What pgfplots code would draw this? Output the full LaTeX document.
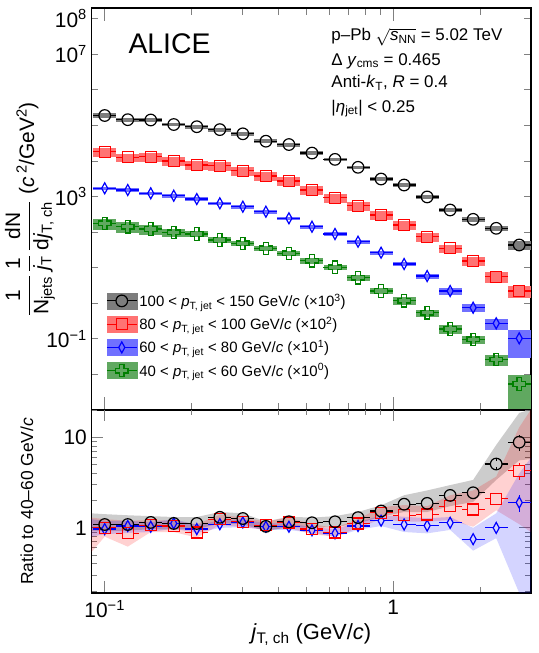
\documentclass[border=0pt]{standalone}
\usepackage{fontspec}
\setmainfont{Liberation Sans}
\usepackage{pgfplots}
\usepackage{pgfplotstable}
\pgfplotsset{compat=1.18}

\definecolor{cblk}{RGB}{0,0,0}
\definecolor{cred}{RGB}{255,0,0}
\definecolor{cblu}{RGB}{0,0,255}
\definecolor{cgrn}{RGB}{0,128,0}
\definecolor{boxK}{RGB}{125,125,125}
\definecolor{boxR}{RGB}{255,115,115}
\definecolor{boxB}{RGB}{112,112,255}
\definecolor{boxG}{RGB}{96,168,96}

\newcommand\fTick{\fontsize{21}{25}\selectfont}
\newcommand\fLab{\fontsize{21}{25}\selectfont}
\newcommand\fInfo{\fontsize{17}{20}\selectfont}
\newcommand\fLeg{\fontsize{15}{18}\selectfont}
\newcommand\fAlice{\fontsize{28.5}{32}\selectfont}
\newcommand\fRatio{\fontsize{17.5}{20}\selectfont}
\newcommand\fX{\fontsize{22}{26}\selectfont}

\pgfdeclareplotmark{ocross}{%
  \pgfpathmoveto{\pgfqpoint{-0.36\pgfplotmarksize}{\pgfplotmarksize}}%
  \pgfpathlineto{\pgfqpoint{0.36\pgfplotmarksize}{\pgfplotmarksize}}%
  \pgfpathlineto{\pgfqpoint{0.36\pgfplotmarksize}{0.36\pgfplotmarksize}}%
  \pgfpathlineto{\pgfqpoint{\pgfplotmarksize}{0.36\pgfplotmarksize}}%
  \pgfpathlineto{\pgfqpoint{\pgfplotmarksize}{-0.36\pgfplotmarksize}}%
  \pgfpathlineto{\pgfqpoint{0.36\pgfplotmarksize}{-0.36\pgfplotmarksize}}%
  \pgfpathlineto{\pgfqpoint{0.36\pgfplotmarksize}{-\pgfplotmarksize}}%
  \pgfpathlineto{\pgfqpoint{-0.36\pgfplotmarksize}{-\pgfplotmarksize}}%
  \pgfpathlineto{\pgfqpoint{-0.36\pgfplotmarksize}{-0.36\pgfplotmarksize}}%
  \pgfpathlineto{\pgfqpoint{-\pgfplotmarksize}{-0.36\pgfplotmarksize}}%
  \pgfpathlineto{\pgfqpoint{-\pgfplotmarksize}{0.36\pgfplotmarksize}}%
  \pgfpathlineto{\pgfqpoint{-0.36\pgfplotmarksize}{0.36\pgfplotmarksize}}%
  \pgfpathclose
  \pgfusepathqstroke
}
\pgfdeclareplotmark{tdiamond}{%
  \pgfpathmoveto{\pgfqpoint{0pt}{\pgfplotmarksize}}%
  \pgfpathlineto{\pgfqpoint{0.55\pgfplotmarksize}{0pt}}%
  \pgfpathlineto{\pgfqpoint{0pt}{-\pgfplotmarksize}}%
  \pgfpathlineto{\pgfqpoint{-0.55\pgfplotmarksize}{0pt}}%
  \pgfpathclose
  \pgfusepathqstroke
}

% top panel: x, y, relative systematic
\pgfplotstableread{
x y s
0.1000 1.90e5 0.17
0.1202 1.45e5 0.12
0.1444 1.42e5 0.12
0.1735 1.06e5 0.12
0.2085 9.20e4 0.12
0.2506 7.62e4 0.12
0.3011 5.81e4 0.12
0.3619 3.60e4 0.12
0.4349 2.90e4 0.12
0.5227 1.67e4 0.12
0.6281 1.11e4 0.12
0.7548 6.64e3 0.12
0.9071 3.11e3 0.12
1.090 2.11e3 0.12
1.310 977 0.12
1.574 419 0.14
1.891 229 0.15
2.273 128 0.18
2.731 43.5 0.27
}\topK
\pgfplotstableread{
x y s
0.1000 1.82e4 0.30
0.1202 1.27e4 0.27
0.1444 1.32e4 0.27
0.1735 9.98e3 0.27
0.2085 7.71e3 0.27
0.2506 7.36e3 0.27
0.3011 5.33e3 0.27
0.3619 3.78e3 0.27
0.4349 2.74e3 0.27
0.5227 1.53e3 0.27
0.6281 929 0.27
0.7548 553 0.27
0.9071 303 0.27
1.090 158 0.27
1.310 74.3 0.27
1.574 35.1 0.27
1.891 15.4 0.28
2.273 5.58 0.35
2.731 2.21 0.38
}\topR
\pgfplotstableread{
x y s
0.1000 1708 0.12
0.1202 1528 0.12
0.1444 1233 0.12
0.1735 1057 0.12
0.2085 853 0.12
0.2506 646 0.12
0.3011 519 0.12
0.3619 375 0.12
0.4349 245 0.12
0.5227 142 0.12
0.6281 88.5 0.12
0.7548 53.8 0.12
0.9071 26.4 0.12
1.090 12.7 0.12
1.310 5.83 0.15
1.574 2.21 0.22
1.891 0.75 0.25
2.273 0.274 0.36
2.731 0.1035 0.72
}\topB
\pgfplotstableread{
x y s
0.1000 177 0.36
0.1202 142 0.34
0.1444 122 0.30
0.1735 98.9 0.25
0.2085 88.5 0.20
0.2506 60.0 0.18
0.3011 48.5 0.18
0.3619 35.1 0.18
0.4349 25.4 0.18
0.5227 15.7 0.18
0.6281 10.3 0.18
0.7548 5.22 0.18
0.9071 2.21 0.20
1.090 1.18 0.25
1.310 0.543 0.22
1.574 0.189 0.28
1.891 0.0970 0.25
2.273 0.0265 0.36
2.731 0.00537 0.82
}\topG

% ratio panel
\pgfplotstableread{
x r
0.1000 1.09
0.1202 1.09
0.1444 1.15
0.1735 1.12
0.2085 1.12
0.2506 1.31
0.3011 1.27
0.3619 1.04
0.4349 1.17
0.5227 1.14
0.6281 1.17
0.7548 1.30
0.9071 1.54
1.090 1.83
1.310 1.87
1.574 2.29
1.891 2.45
2.273 5.1
2.731 8.9
}\ratK
\pgfplotstableread{
x r
0.1000 1.00
0.1202 0.87
0.1444 1.07
0.1735 1.05
0.2085 0.89
0.2506 1.25
0.3011 1.17
0.3619 1.07
0.4349 1.15
0.5227 0.97
0.6281 0.89
0.7548 1.12
0.9071 1.47
1.090 1.38
1.310 1.41
1.574 1.74
1.891 1.60
2.273 2.10
2.731 4.30
}\ratR
\pgfplotstableread{
x r
0.1000 0.97
0.1202 1.05
0.1444 1.03
0.1735 1.12
0.2085 0.97
0.2506 1.10
0.3011 1.15
0.3619 1.03
0.4349 1.03
0.5227 0.94
0.6281 0.87
0.7548 1.05
0.9071 1.20
1.090 1.09
1.310 1.06
1.574 1.14
1.891 0.75
2.273 1.00
2.731 1.91
}\ratB

\pgfplotsset{
  every axis/.append style={
    scale only axis, width=439.5bp,
    xmin=0.09, xmax=3,
    axis line style={line width=1.1bp},
    tick align=inside,
    tick style={line width=0.9bp},
    xtick={0.1,1},
    minor xtick={0.09,0.2,0.3,0.4,0.5,0.6,0.7,0.8,0.9,2,3},
    tick label style={font=\fTick},
    yticklabel style={inner sep=0pt, xshift=-4.5bp},
    xticklabel style={inner sep=0pt, yshift=-7bp},
  },
}

\begin{document}
\begin{tikzpicture}
\path[use as bounding box] (0,0) rectangle (539bp,653bp);

\begin{loglogaxis}[
  at={(91.5bp,243bp)}, anchor=south west, height=402bp,
  ymin=1e-3, ymax=2e8,
  xticklabels={,},
  ytick={1e-1,1e3,1e7,1e8},
  yticklabels={10\textsuperscript{−1},10\textsuperscript{3},10\textsuperscript{7},10\textsuperscript{8}},
  minor ytick={1e-3,1e-2,1e-1,1,10,100,1e3,1e4,1e5,1e6,1e7,1e8},
  every major y tick/.append style={draw=none},
  major tick length=13bp, minor tick length=7bp,
  ylabel={$\displaystyle\frac{\mbox{1}}{\mbox{N\textsubscript{jets}}}\,\frac{\mbox{1}}{\mbox{\textit{j}\textsubscript{T}}}\,\frac{\mbox{dN}}{\mbox{d\textit{j}\textsubscript{T, ch}}}$\ (\textit{c}\,\textsuperscript{2}/GeV\textsuperscript{2})},
  ylabel style={at={(rel axis cs:-0.14,0.5)}, anchor=center, font=\fLab},
  legend style={at={(0.033,0.2943)}, anchor=north west, draw=none, fill=none,
    inner sep=0pt, font=\fLeg, row sep=5.3bp, nodes={inner sep=2bp}},
  legend cell align=left,
]
\addplot[draw=none, mark=none, forget plot,
  error bars/.cd, y dir=both, y explicit relative, error mark=none,
  error bar style={line width=23bp, draw=boxK, solid}] table[x=x,y=y,y error=s]{\topK};
\addplot[draw=none, mark=none, forget plot,
  error bars/.cd, y dir=both, y explicit relative, error mark=none,
  error bar style={line width=23bp, draw=boxR, solid}] table[x=x,y=y,y error=s]{\topR};
\addplot[draw=none, mark=none, forget plot,
  error bars/.cd, y dir=both, y explicit relative, error mark=none,
  error bar style={line width=23bp, draw=boxB, solid}] table[x=x,y=y,y error=s]{\topB};
\addplot[draw=none, mark=none, forget plot,
  error bars/.cd, y dir=both, y explicit relative, error mark=none,
  error bar style={line width=23bp, draw=boxG, solid}] table[x=x,y=y,y error=s]{\topG};

\addplot[cgrn, only marks, line width=1.2bp, forget plot, mark=ocross, mark size=6.2bp,
  error bars/.cd, x dir=both, x explicit, error mark=none,
  error bar style={line width=1.2bp, shorten <=5.8bp}]
  table[x=x,y=y, x error plus expr=0.0962*\thisrow{x}, x error minus expr=0.0878*\thisrow{x}]{\topG};
\addplot[cblu, only marks, line width=1.2bp, forget plot, mark=tdiamond, mark size=5.5bp,
  error bars/.cd, x dir=both, x explicit, error mark=none,
  error bar style={line width=1.2bp, shorten <=3.2bp}]
  table[x=x,y=y, x error plus expr=0.0962*\thisrow{x}, x error minus expr=0.0878*\thisrow{x}]{\topB};
\addplot[cred, only marks, line width=1.2bp, forget plot, mark=square, mark size=5.5bp,
  error bars/.cd, x dir=both, x explicit, error mark=none,
  error bar style={line width=1.2bp, shorten <=5.5bp}]
  table[x=x,y=y, x error plus expr=0.0962*\thisrow{x}, x error minus expr=0.0878*\thisrow{x}]{\topR};
\addplot[cblk, only marks, line width=1.2bp, forget plot, mark=o, mark size=5.8bp,
  error bars/.cd, x dir=both, x explicit, error mark=none,
  error bar style={line width=1.2bp, shorten <=5.8bp}]
  table[x=x,y=y, x error plus expr=0.0962*\thisrow{x}, x error minus expr=0.0878*\thisrow{x}]{\topK};

\addlegendimage{legend image code/.code={%
  \fill[boxK] (0bp,-8bp) rectangle (30bp,8bp);
  \draw[cblk,line width=1.2bp] (0bp,0bp) -- (9.2bp,0bp) (20.8bp,0bp) -- (30bp,0bp);
  \draw[cblk,line width=1.2bp] plot[mark=o,mark size=5.8bp] coordinates {(15bp,0bp)};}}
\addlegendentry{100 < \textit{p}\textsubscript{T, jet} < 150 GeV/\textit{c} (×10\textsuperscript{3})}
\addlegendimage{legend image code/.code={%
  \fill[boxR] (0bp,-8bp) rectangle (30bp,8bp);
  \draw[cred,line width=1.2bp] (0bp,0bp) -- (9.5bp,0bp) (20.5bp,0bp) -- (30bp,0bp);
  \draw[cred,line width=1.2bp] plot[mark=square,mark size=5.5bp] coordinates {(15bp,0bp)};}}
\addlegendentry{80 < \textit{p}\textsubscript{T, jet} < 100 GeV/\textit{c} (×10\textsuperscript{2})}
\addlegendimage{legend image code/.code={%
  \fill[boxB] (0bp,-8bp) rectangle (30bp,8bp);
  \draw[cblu,line width=1.2bp] (0bp,0bp) -- (11.8bp,0bp) (18.2bp,0bp) -- (30bp,0bp);
  \draw[cblu,line width=1.2bp] plot[mark=tdiamond,mark size=5.5bp] coordinates {(15bp,0bp)};}}
\addlegendentry{60 < \textit{p}\textsubscript{T, jet} < 80 GeV/\textit{c} (×10\textsuperscript{1})}
\addlegendimage{legend image code/.code={%
  \fill[boxG] (0bp,-8bp) rectangle (30bp,8bp);
  \draw[cgrn,line width=1.2bp] (0bp,0bp) -- (8.8bp,0bp) (21.2bp,0bp) -- (30bp,0bp);
  \draw[cgrn,line width=1.2bp] plot[mark=ocross,mark size=6.2bp] coordinates {(15bp,0bp)};}}
\addlegendentry{40 < \textit{p}\textsubscript{T, jet} < 60 GeV/\textit{c} (×10\textsuperscript{0})}

\node[anchor=base west, font=\fAlice] at (rel axis cs:0.0762,0.888) {ALICE};
\node[anchor=base west, font=\fInfo] at (rel axis cs:0.538,0.918)
  {p–Pb $\sqrt{\mbox{\textit{s}\textsubscript{NN}}}$ = 5.02 TeV};
\node[anchor=base west, font=\fInfo] at (rel axis cs:0.538,0.858)
  {Δ \textit{y}\textsubscript{cms} = 0.465};
\node[anchor=base west, font=\fInfo] at (rel axis cs:0.538,0.801)
  {Anti-\textit{k}\textsubscript{T}, \textit{R} = 0.4};
\node[anchor=base west, font=\fInfo] at (rel axis cs:0.538,0.741)
  {|\textit{η}\textsubscript{jet}| < 0.25};
\end{loglogaxis}

\begin{loglogaxis}[
  at={(91.5bp,60bp)}, anchor=south west, height=183.5bp,
  ymin=0.19, ymax=20.5,
  xticklabels={10\textsuperscript{−1},1},
  ytick={1,10}, yticklabels={1,10},
  minor ytick={0.2,0.3,0.4,0.5,0.6,0.7,0.8,0.9,2,3,4,5,6,7,8,9,20},
  major tick length=12bp, minor tick length=6bp,
  ylabel={Ratio to 40–60 GeV/\textit{c}},
  ylabel style={at={(rel axis cs:-0.147,0.5)}, anchor=center, font=\fRatio},
  xlabel={\textit{j}\textsubscript{T, ch} (GeV/\textit{c})},
  xlabel style={at={(rel axis cs:0.5,-0.256)}, anchor=base, font=\fX},
]
% systematic bands (lower edge, then upper edge backwards)
\addplot[draw=none, fill=black, fill opacity=0.2, forget plot] coordinates {
 (0.09,0.92) (0.1,0.92) (0.1202,0.93) (0.1444,0.97) (0.1735,0.96) (0.2085,0.97)
 (0.2506,1.12) (0.3011,1.10) (0.3619,0.92) (0.4349,1.02) (0.5227,1.00) (0.6281,1.02)
 (0.7548,1.12) (0.9071,1.33) (1.090,1.50) (1.310,1.50) (1.574,1.74) (1.891,1.94)
 (2.273,3.40) (2.731,5.60) (3.0,5.8)
 (3.0,20.5) (2.731,18.8) (2.273,8.3) (1.891,3.4) (1.574,2.98) (1.310,2.6) (1.090,2.3)
 (0.9071,1.78) (0.7548,1.5) (0.6281,1.35) (0.5227,1.3) (0.4349,1.33) (0.3619,1.18)
 (0.3011,1.45) (0.2506,1.5) (0.2085,1.32) (0.1735,1.32) (0.1444,1.35) (0.1202,1.38)
 (0.1,1.42) (0.09,1.45)};
\addplot[draw=none, fill=red, fill opacity=0.18, forget plot] coordinates {
 (0.09,0.54) (0.1,0.8) (0.1202,0.62) (0.1444,0.9) (0.1735,0.9) (0.2085,0.78)
 (0.2506,1.08) (0.3011,1.02) (0.3619,0.95) (0.4349,1.0) (0.5227,0.85) (0.6281,0.8)
 (0.7548,1.0) (0.9071,1.25) (1.09,1.17) (1.31,1.17) (1.574,1.22) (1.891,1.03)
 (2.273,1.57) (2.731,1.1) (3.0,0.9)
 (3.0,20.5) (2.731,13) (2.273,3.7) (1.891,2.6) (1.574,2.3) (1.31,1.74) (1.09,1.79)
 (0.9071,1.7) (0.7548,1.25) (0.6281,1.0) (0.5227,1.1) (0.4349,1.3) (0.3619,1.18)
 (0.3011,1.3) (0.2506,1.4) (0.2085,1.1) (0.1735,1.2) (0.1444,1.22) (0.1202,1.2)
 (0.1,1.25) (0.09,1.3)};
\addplot[draw=none, fill=blue, fill opacity=0.17, forget plot] coordinates {
 (0.09,0.8) (0.1,0.85) (0.1202,0.88) (0.1444,0.9) (0.1735,0.98) (0.2085,0.88)
 (0.2506,1.0) (0.3011,1.02) (0.3619,0.95) (0.4349,0.95) (0.5227,0.88) (0.6281,0.8)
 (0.7548,0.95) (0.9071,1.05) (1.09,0.9) (1.31,0.87) (1.574,0.95) (1.891,0.56)
 (2.273,0.77) (2.731,0.19) (3.0,0.19)
 (3.0,6.0) (2.731,4.0) (2.273,1.45) (1.891,1.0) (1.574,1.32) (1.31,1.28) (1.09,1.33)
 (0.9071,1.38) (0.7548,1.15) (0.6281,0.97) (0.5227,1.02) (0.4349,1.12) (0.3619,1.12)
 (0.3011,1.25) (0.2506,1.2) (0.2085,1.08) (0.1735,1.25) (0.1444,1.15) (0.1202,1.2)
 (0.1,1.2) (0.09,1.25)};

% statistical vertical bars on the last points
\addplot[draw=none, mark=none, forget plot,
  error bars/.cd, y dir=both, y explicit, error mark=none,
  error bar style={line width=1.2bp, draw=cblu, solid, shorten <=5.5bp}]
  coordinates {(2.731,1.91) +- (0,0.4)};
\addplot[draw=none, mark=none, forget plot,
  error bars/.cd, y dir=both, y explicit, error mark=none,
  error bar style={line width=1.2bp, draw=cred, solid, shorten <=5.5bp}]
  coordinates {(2.731,4.30) +- (0,0.9)};
\addplot[draw=none, mark=none, forget plot,
  error bars/.cd, y dir=both, y explicit, error mark=none,
  error bar style={line width=1.2bp, draw=cblk, solid, shorten <=5.8bp}]
  coordinates {(2.273,5.1) +- (0,0.4) (2.731,8.9) +- (0,1.7)};

\addplot[cblu, only marks, line width=1.2bp, forget plot, mark=tdiamond, mark size=5.5bp,
  error bars/.cd, x dir=both, x explicit, error mark=none,
  error bar style={line width=1.2bp, shorten <=3.2bp}]
  table[x=x,y=r, x error plus expr=0.0962*\thisrow{x}, x error minus expr=0.0878*\thisrow{x}]{\ratB};
\addplot[cred, only marks, line width=1.2bp, forget plot, mark=square, mark size=5.5bp,
  error bars/.cd, x dir=both, x explicit, error mark=none,
  error bar style={line width=1.2bp, shorten <=5.5bp}]
  table[x=x,y=r, x error plus expr=0.0962*\thisrow{x}, x error minus expr=0.0878*\thisrow{x}]{\ratR};
\addplot[cblk, only marks, line width=1.2bp, forget plot, mark=o, mark size=5.8bp,
  error bars/.cd, x dir=both, x explicit, error mark=none,
  error bar style={line width=1.2bp, shorten <=5.8bp}]
  table[x=x,y=r, x error plus expr=0.0962*\thisrow{x}, x error minus expr=0.0878*\thisrow{x}]{\ratK};
\end{loglogaxis}
\end{tikzpicture}
\end{document}
